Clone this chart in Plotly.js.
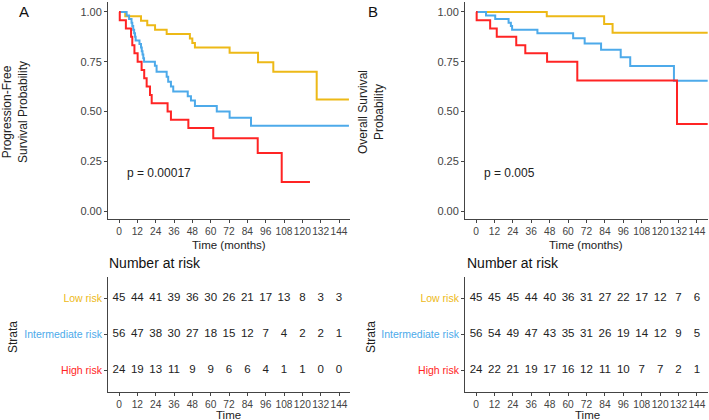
<!DOCTYPE html>
<html>
<head>
<meta charset="utf-8">
<script src="https://cdn.plot.ly/plotly-3.0.1.min.js"></script>
<style>html,body{margin:0;padding:0;background:#fff;}#chart{width:709px;height:420px;}</style>
</head>
<body>
<div id="chart"></div>
<script>
// ---------- DATA ----------
var groups = ["Low risk", "Intermediate risk", "High risk"];
var groupColors = ["#EDB917", "#4DAAEA", "#FF2424"];
var tableTimes = [0, 12, 24, 36, 48, 60, 72, 84, 96, 108, 120, 132, 144];

// Panel A: progression-free survival (time in months, survival probability)
var pfsLowT  = [0, 4.1, 14.4, 18.5, 23.6, 31.2, 46.4, 48.0, 49.7, 72.4, 91.0, 101.0, 129.4, 150.5];
var pfsLowS  = [1, 0.978, 0.956, 0.933, 0.911, 0.889, 0.867, 0.844, 0.822, 0.795, 0.747, 0.700, 0.560, 0.560];
var pfsIntT  = [0, 5.0, 6.6, 8.2, 8.7, 9.3, 9.9, 10.5, 10.9, 13.4, 14.4, 14.9, 15.4, 15.9, 16.4, 23.5, 24.6, 31.2, 32.2, 34.0, 35.5, 45.0, 47.1, 49.7, 64.0, 72.4, 86.4, 150.5];
var pfsIntS  = [1, 0.982, 0.964, 0.946, 0.929, 0.911, 0.893, 0.875, 0.857, 0.839, 0.821, 0.803, 0.786, 0.768, 0.750, 0.730, 0.700, 0.675, 0.650, 0.625, 0.600, 0.577, 0.555, 0.528, 0.500, 0.469, 0.429, 0.429];
var pfsHighT = [0, 0.5, 4.5, 7.9, 8.7, 10.1, 12.2, 14.8, 16.5, 18.1, 20.3, 21.4, 31.8, 34.0, 45.4, 61.7, 90.8, 106.5, 125.0];
var pfsHighS = [1, 0.958, 0.917, 0.875, 0.833, 0.792, 0.750, 0.708, 0.667, 0.625, 0.583, 0.542, 0.500, 0.458, 0.417, 0.365, 0.292, 0.146, 0.146];
var pfsPval = "p = 0.00017";
var pfsRiskLow  = [45, 44, 41, 39, 36, 30, 26, 21, 17, 13, 8, 3, 3];
var pfsRiskInt  = [56, 47, 38, 30, 27, 18, 15, 12, 7, 4, 2, 2, 1];
var pfsRiskHigh = [24, 19, 13, 11, 9, 9, 6, 6, 4, 1, 1, 0, 0];

// Panel B: overall survival
var osLowT  = [0, 46.1, 83.5, 89.0, 151];
var osLowS  = [1, 0.978, 0.939, 0.896, 0.896];
var osIntT  = [0, 6.5, 12.5, 21.2, 22.7, 23.5, 40.0, 63.3, 70.8, 81.5, 94.3, 100.5, 129.0, 151];
var osIntS  = [1, 0.982, 0.964, 0.946, 0.929, 0.911, 0.893, 0.868, 0.842, 0.810, 0.772, 0.728, 0.654, 0.654];
var osHighT = [0, 0.4, 9.2, 13.5, 26.2, 32.1, 46.3, 66.0, 131.0, 151];
var osHighS = [1, 0.958, 0.917, 0.875, 0.833, 0.792, 0.750, 0.656, 0.437, 0.437];
var osPval = "p = 0.005";
var osRiskLow  = [45, 45, 45, 44, 40, 36, 31, 27, 22, 17, 12, 7, 6];
var osRiskInt  = [56, 54, 49, 47, 43, 35, 31, 26, 19, 14, 12, 9, 5];
var osRiskHigh = [24, 22, 21, 19, 17, 16, 12, 11, 10, 7, 7, 2, 1];

var yTicks = [0, 0.25, 0.5, 0.75, 1];
var yTickText = ["0.00", "0.25", "0.50", "0.75", "1.00"];

// ---------- BUILD ----------
var W = 709, H = 420;
function px(x) { return x / W; }
function py(y) { return 1 - y / H; }
var FONT = "Liberation Sans, Arial, sans-serif";
var TXT = "#444444";

var traces = [];
function curve(t, s, ci, xa, ya) {
  traces.push({x: t, y: s, type: "scatter", mode: "lines", line: {shape: "hv", width: 2, color: groupColors[ci]},
    xaxis: xa, yaxis: ya, hoverinfo: "skip", cliponaxis: false});
}
curve(pfsLowT, pfsLowS, 0, "x", "y");
curve(pfsIntT, pfsIntS, 1, "x", "y");
curve(pfsHighT, pfsHighS, 2, "x", "y");
curve(osLowT, osLowS, 0, "x2", "y2");
curve(osIntT, osIntS, 1, "x2", "y2");
curve(osHighT, osHighS, 2, "x2", "y2");

function riskRow(counts, row, xa, ya) {
  traces.push({x: tableTimes, y: tableTimes.map(function(){return row;}), text: counts.map(String),
    type: "scatter", mode: "text", textposition: "middle center",
    textfont: {family: FONT, size: 11.5, color: "#222"}, xaxis: xa, yaxis: ya, hoverinfo: "skip", cliponaxis: false});
}
// rows: 3 = Low (top), 2 = Intermediate, 1 = High
riskRow(pfsRiskLow, 3, "x3", "y3");
riskRow(pfsRiskInt, 2, "x3", "y3");
riskRow(pfsRiskHigh, 1, "x3", "y3");
riskRow(osRiskLow, 3, "x4", "y4");
riskRow(osRiskInt, 2, "x4", "y4");
riskRow(osRiskHigh, 1, "x4", "y4");

var domA = [px(108), px(350)];
var domB = [px(465), px(708)];
var domPlotY = [py(219), py(2)];
var domTabY = [py(392), py(277)];
var xRange = [-7.2, 151.2];

function xAxis(dom, anchor) {
  return {domain: dom, range: xRange, anchor: anchor, tickvals: tableTimes, ticktext: tableTimes.map(String),
    tickangle: 0, automargin: false,
    ticks: "outside", ticklen: 3, tickcolor: "#444", tickwidth: 1, showline: true, linecolor: "#444", linewidth: 1,
    showgrid: false, zeroline: false, tickfont: {family: FONT, size: 10.2, color: TXT}, fixedrange: true};
}
function yPlot(anchor) {
  return {domain: domPlotY, range: [-0.040, 1.050], anchor: anchor, tickvals: yTicks, ticktext: yTickText,
    automargin: false,
    ticks: "outside", ticklen: 3, tickcolor: "#444", tickwidth: 1, showline: true, linecolor: "#444", linewidth: 1,
    showgrid: false, zeroline: false, tickfont: {family: FONT, size: 11, color: TXT}, fixedrange: true};
}
function yTable(anchor) {
  return {domain: domTabY, range: [0.4, 3.6], anchor: anchor, tickvals: [3, 2, 1],
    ticktext: groups.map(function(g, i){ return '<span style="color:' + groupColors[i] + '">' + g + '</span>'; }),
    automargin: false,
    ticks: "outside", ticklen: 3, tickcolor: "#444", tickwidth: 1, showline: true, linecolor: "#444", linewidth: 1,
    showgrid: false, zeroline: false, tickfont: {family: FONT, size: 10.5, color: TXT}, fixedrange: true};
}

function ann(text, x, y, opts) {
  var a = {text: text, x: x, y: y, xref: "paper", yref: "paper", showarrow: false,
    font: {family: FONT, size: 12, color: "#222"}, xanchor: "center", yanchor: "middle"};
  for (var k in opts) a[k] = opts[k];
  return a;
}

var annotations = [
  ann("A", px(24), py(11), {font: {family: FONT, size: 15, color: "#111"}}),
  ann("B", px(373), py(11), {font: {family: FONT, size: 15, color: "#111"}}),
  ann("Progression-Free<br>Survival Probability", px(15), py(112), {textangle: -90}),
  ann("Overall Survival<br>Probability", px(371), py(112), {textangle: -90}),
  ann("Time (months)", px(229), py(245), {font: {family: FONT, size: 11.5, color: "#222"}}),
  ann("Time (months)", px(586), py(245), {font: {family: FONT, size: 11.5, color: "#222"}}),
  {text: pfsPval, x: 3.9, y: 0.191, xref: "x", yref: "y", showarrow: false, xanchor: "left", yanchor: "middle",
   font: {family: FONT, size: 12, color: "#222"}},
  {text: osPval, x: 3.7, y: 0.191, xref: "x2", yref: "y2", showarrow: false, xanchor: "left", yanchor: "middle",
   font: {family: FONT, size: 12, color: "#222"}},
  ann("Number at risk", px(107), py(263), {xanchor: "left", font: {family: FONT, size: 14, color: "#111"}}),
  ann("Number at risk", px(465), py(263), {xanchor: "left", font: {family: FONT, size: 14, color: "#111"}}),
  ann("Strata", px(13), py(337), {textangle: -90}),
  ann("Strata", px(371), py(337), {textangle: -90}),
  ann("Time", px(228), py(414.5), {font: {family: FONT, size: 11.5, color: "#222"}}),
  ann("Time", px(587), py(414.5), {font: {family: FONT, size: 11.5, color: "#222"}})
];

var layout = {
  width: W, height: H, margin: {l: 0, r: 0, t: 0, b: 0},
  paper_bgcolor: "#fff", plot_bgcolor: "#fff", showlegend: false,
  font: {family: FONT},
  xaxis: xAxis(domA, "y"), yaxis: yPlot("x"),
  xaxis2: xAxis(domB, "y2"), yaxis2: yPlot("x2"),
  xaxis3: xAxis(domA, "y3"), yaxis3: yTable("x3"),
  xaxis4: xAxis(domB, "y4"), yaxis4: yTable("x4"),
  annotations: annotations
};

Plotly.newPlot("chart", traces, layout, {staticPlot: true, displayModeBar: false});
</script>
</body>
</html>
